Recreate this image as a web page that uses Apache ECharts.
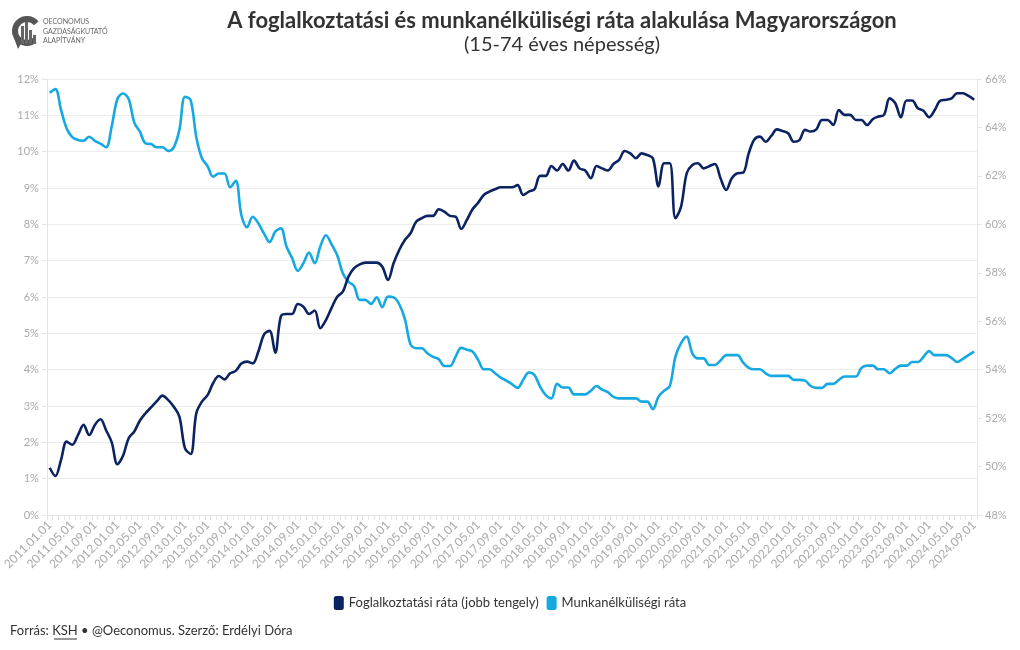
<!DOCTYPE html>
<html>
<head>
<meta charset="utf-8">
<script src="https://cdn.jsdelivr.net/npm/echarts@6/dist/echarts.min.js"></script>
<style>
html,body{margin:0;padding:0;background:#fff;}
#chart{width:1020px;height:650px;}
</style>
</head>
<body>
<div id="chart"></div>
<script>
// ---- data ----
var startYear = 2011, startMonth = 1, monthCount = 165;
var categories = [];
for (var i = 0; i < monthCount; i++) {
  var m = startMonth - 1 + i;
  var y = startYear + Math.floor(m / 12);
  var mm = (m % 12) + 1;
  categories.push(y + '.' + (mm < 10 ? '0' + mm : mm) + '.01');
}

var unemploymentRate = [
  11.62, 11.72, 11.15, 10.64, 10.40, 10.32, 10.30, 10.41, 10.30, 10.22,
  10.12, 10.70, 11.45, 11.60, 11.45, 10.80, 10.55, 10.23, 10.21, 10.12,
  10.12, 10.02, 10.12, 10.60, 11.51, 11.42, 10.40, 9.82, 9.60, 9.31,
  9.40, 9.40, 9.02, 9.20, 8.25, 7.92, 8.21, 8.03, 7.75, 7.51,
  7.80, 7.89, 7.39, 7.07, 6.72, 6.93, 7.22, 6.93, 7.39, 7.70,
  7.45, 7.15, 6.65, 6.42, 6.30, 5.92, 5.92, 5.81, 5.99, 5.72,
  6.01, 5.99, 5.80, 5.40, 4.70, 4.59, 4.59, 4.45, 4.35, 4.29,
  4.10, 4.10, 4.36, 4.60, 4.55, 4.50, 4.27, 4.01, 4.01, 3.90,
  3.78, 3.70, 3.60, 3.50, 3.72, 3.92, 3.85, 3.53, 3.30, 3.21,
  3.61, 3.51, 3.51, 3.32, 3.32, 3.32, 3.42, 3.55, 3.45, 3.38,
  3.25, 3.21, 3.21, 3.21, 3.21, 3.12, 3.12, 2.91, 3.26, 3.42,
  3.55, 4.36, 4.73, 4.91, 4.45, 4.31, 4.31, 4.13, 4.13, 4.25,
  4.40, 4.40, 4.40, 4.20, 4.05, 4.01, 4.01, 3.90, 3.83, 3.83,
  3.83, 3.83, 3.72, 3.72, 3.70, 3.55, 3.50, 3.50, 3.61, 3.61,
  3.72, 3.81, 3.81, 3.81, 4.05, 4.11, 4.11, 4.01, 4.01, 3.90,
  4.02, 4.11, 4.11, 4.21, 4.21, 4.35, 4.51, 4.40, 4.40, 4.40,
  4.32, 4.21, 4.30, 4.40, 4.50
];

var employmentRate = [
  49.95, 49.61, 50.27, 51.03, 50.90, 51.30, 51.72, 51.30, 51.72, 51.95,
  51.50, 51.00, 50.10, 50.45, 51.17, 51.45, 51.90, 52.20, 52.45, 52.70,
  52.93, 52.75, 52.47, 52.06, 50.75, 50.52, 52.20, 52.68, 52.95, 53.45,
  53.74, 53.60, 53.85, 53.95, 54.25, 54.33, 54.26, 54.74, 55.45, 55.60,
  54.70, 56.20, 56.30, 56.30, 56.71, 56.60, 56.30, 56.44, 55.71, 56.05,
  56.55, 57.01, 57.22, 57.84, 58.19, 58.35, 58.42, 58.42, 58.42, 58.25,
  57.70, 58.39, 58.94, 59.35, 59.63, 60.11, 60.25, 60.35, 60.35, 60.62,
  60.52, 60.35, 60.32, 59.81, 60.18, 60.62, 60.89, 61.21, 61.35, 61.45,
  61.53, 61.53, 61.53, 61.62, 61.21, 61.35, 61.45, 62.00, 62.00, 62.41,
  62.22, 62.49, 62.22, 62.63, 62.31, 62.22, 61.90, 62.41, 62.31, 62.22,
  62.49, 62.66, 63.03, 62.93, 62.73, 62.93, 62.86, 62.73, 61.56, 62.52,
  62.52, 60.25, 60.73, 62.11, 62.45, 62.52, 62.31, 62.40, 62.49, 61.90,
  61.42, 61.90, 62.11, 62.13, 62.93, 63.50, 63.62, 63.41, 63.65, 63.92,
  63.85, 63.76, 63.41, 63.48, 63.90, 63.83, 63.92, 64.31, 64.31, 64.10,
  64.72, 64.52, 64.52, 64.31, 64.31, 64.10, 64.34, 64.45, 64.52, 65.20,
  65.00, 64.42, 65.11, 65.11, 64.79, 64.69, 64.42, 64.72, 65.11, 65.14,
  65.20, 65.41, 65.41, 65.30, 65.14
];

var seriesNames = ['Foglalkoztatási ráta (jobb tengely)', 'Munkanélküliségi ráta'];
var seriesColors = ['#0b2461', '#16a9e1'];

var titleText = 'A foglalkoztatási és munkanélküliségi ráta alakulása Magyarországon';
var subtitleText = '(15-74 éves népesség)';

var FONT = 'Lato, "Noto Sans", sans-serif';

var chart = echarts.init(document.getElementById('chart'), null, {renderer: 'canvas'});

var option = {
  backgroundColor: '#ffffff',
  animation: false,
  textStyle: {fontFamily: FONT},
  title: [{
    text: titleText,
    subtext: subtitleText,
    left: 557,
    top: 5,
    textAlign: 'center',
    itemGap: 3,
    textStyle: {fontFamily: FONT, fontSize: 22, fontWeight: 'bold', color: '#333333'},
    subtextStyle: {fontFamily: FONT, fontSize: 20, color: '#333333'}
  }],
  legend: {
    data: seriesNames,
    left: 'center',
    top: 591,
    itemWidth: 10,
    itemHeight: 14,
    itemGap: 8,
    icon: 'roundRect',
    textStyle: {fontFamily: FONT, fontSize: 13, color: '#333333'}
  },
  grid: {left: 46, right: 43, top: 79, bottom: 135, containLabel: false},
  xAxis: {
    type: 'category',
    data: categories,
    boundaryGap: true,
    axisLine: {show: true, lineStyle: {color: '#e6e6e6'}},
    axisTick: {show: true, interval: 0, length: 5, lineStyle: {color: '#e6e6e6'}},
    axisLabel: {
      interval: 3,
      rotate: 45,
      fontFamily: FONT,
      fontSize: 12,
      color: '#aaaaaa',
      margin: 8
    },
    splitLine: {show: false}
  },
  yAxis: [{
    type: 'value',
    min: 0, max: 12, interval: 1,
    position: 'left',
    axisLine: {show: true, lineStyle: {color: '#e6e6e6'}},
    axisTick: {show: true, length: 5, lineStyle: {color: '#e6e6e6'}},
    axisLabel: {formatter: '{value}%', fontFamily: FONT, fontSize: 11, color: '#aaaaaa', margin: 8},
    splitLine: {show: true, lineStyle: {color: '#ececec'}}
  }, {
    type: 'value',
    min: 48, max: 66, interval: 2,
    position: 'right',
    axisLine: {show: true, lineStyle: {color: '#e6e6e6'}},
    axisTick: {show: true, length: 5, lineStyle: {color: '#e6e6e6'}},
    axisLabel: {formatter: '{value}%', fontFamily: FONT, fontSize: 11, color: '#aaaaaa', margin: 8},
    splitLine: {show: false}
  }],
  series: [{
    name: seriesNames[0],
    type: 'line',
    yAxisIndex: 1,
    data: employmentRate,
    smooth: 0.35,
    showSymbol: false,
    symbol: 'none',
    lineStyle: {width: 2.6, color: seriesColors[0]},
    itemStyle: {color: seriesColors[0]},
    z: 3
  }, {
    name: seriesNames[1],
    type: 'line',
    yAxisIndex: 0,
    data: unemploymentRate,
    smooth: 0.35,
    showSymbol: false,
    symbol: 'none',
    lineStyle: {width: 2.6, color: seriesColors[1]},
    itemStyle: {color: seriesColors[1]},
    z: 2
  }],
  graphic: [
    // logo
    {type: 'arc', shape: {cx: 27, cy: 31, r: 12, startAngle: Math.PI * 0.28, endAngle: Math.PI * 1.78, clockwise: true},
     style: {stroke: '#555555', lineWidth: 6, fill: null}},
    {type: 'polygon', shape: {points: [[14, 38], [18, 49], [22, 42]]}, style: {fill: '#555555'}},
    {type: 'rect', shape: {x: 21, y: 26, width: 3, height: 18}, style: {fill: '#666666'}},
    {type: 'rect', shape: {x: 25, y: 22, width: 3, height: 22}, style: {fill: '#666666'}},
    {type: 'rect', shape: {x: 29, y: 30, width: 3, height: 14}, style: {fill: '#666666'}},
    {type: 'rect', shape: {x: 33, y: 35, width: 3, height: 9}, style: {fill: '#666666'}},
    {type: 'text', left: 43, top: 18, style: {text: 'OECONOMUS', font: '7px ' + FONT, fill: '#666666'}},
    {type: 'text', left: 43, top: 28, style: {text: 'GAZDASÁGKUTATÓ', font: '7px ' + FONT, fill: '#666666'}},
    {type: 'text', left: 43, top: 37, style: {text: 'ALAPÍTVÁNY', font: '7px ' + FONT, fill: '#666666'}},
    // footer
    {type: 'text', left: 10, top: 624, style: {
      text: '{a|Forrás: }{b|KSH}{a| • @Oeconomus. Szerző: Erdélyi Dóra}',
      rich: {
        a: {fontFamily: FONT, fontSize: 13, fill: '#333333'},
        b: {fontFamily: FONT, fontSize: 13, fill: '#333333'}
      }
    }},
    {type: 'line', shape: {x1: 54, y1: 639, x2: 77, y2: 639}, style: {stroke: '#333333', lineWidth: 1}}
  ]
};

chart.setOption(option);
</script>
</body>
</html>
